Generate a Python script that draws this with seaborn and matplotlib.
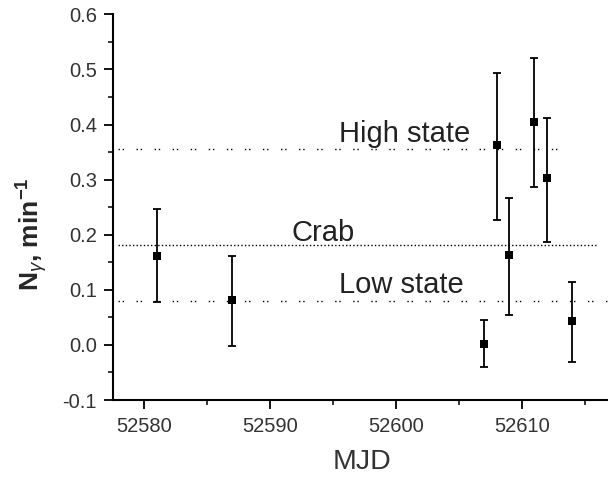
import matplotlib
matplotlib.use("Agg")
import matplotlib.pyplot as plt
import seaborn as sns
import numpy as np
import pandas as pd
from matplotlib.ticker import MultipleLocator

# ---- data ----
mjd = [52581, 52587, 52607, 52608, 52609, 52611, 52612, 52614]
rate = [0.162, 0.082, 0.002, 0.362, 0.163, 0.404, 0.302, 0.043]
err_up = [0.085, 0.079, 0.043, 0.132, 0.103, 0.116, 0.109, 0.072]
err_down = [0.084, 0.084, 0.043, 0.135, 0.109, 0.118, 0.115, 0.074]

level_names = ["High state", "Crab", "Low state"]
level_values = [0.356, 0.182, 0.080]
level_x_start = [52577.9, 52577.9, 52577.9]
level_x_end = [52612.8, 52615.9, 52621.0]
label_x = [52595.5, 52591.7, 52595.5]
label_y = [0.368, 0.188, 0.094]

x_ticks = [52580, 52590, 52600, 52610]
y_ticks = [-0.1, 0.0, 0.1, 0.2, 0.3, 0.4, 0.5, 0.6]

df = pd.DataFrame({"MJD": mjd, "rate": rate})

sns.set_style("ticks")
plt.rcParams["font.family"] = ["Liberation Sans", "DejaVu Sans"]
plt.rcParams["mathtext.fontset"] = "custom"
plt.rcParams["mathtext.rm"] = "Liberation Sans"
plt.rcParams["mathtext.bf"] = "Liberation Sans:bold"
plt.rcParams["mathtext.it"] = "Liberation Sans:italic"

fig = plt.figure(figsize=(6.08, 4.8), dpi=100)
xmin, xmax = 52577.5, 52620.0
left_px = 112.85
px_per_unit = 12.58
right_px = left_px + (xmax - xmin) * px_per_unit
ax = fig.add_axes([left_px / 608, 80 / 480, (right_px - left_px) / 608, (400 - 14.3) / 480])

# reference levels
styles = [(0, (1, 2, 1, 9)), (0, (1, 1.6)), (0, (1, 2, 1, 9))]
for v, xs, xe, ls in zip(level_values, level_x_start, level_x_end, styles):
    ax.plot([xs, xe], [v, v], color="black", lw=1.0, linestyle=ls, zorder=1)
for name, lx, ly in zip(level_names, label_x, label_y):
    ax.text(lx, ly, name, fontsize=21, ha="left", va="baseline", color="#222222")

ax.errorbar(mjd, rate, yerr=[err_down, err_up], fmt="none", ecolor="black",
            elinewidth=1.3, capsize=3.2, capthick=1.3, zorder=2)
sns.scatterplot(data=df, x="MJD", y="rate", marker="s", color="black", s=36,
                edgecolor="black", linewidth=0, ax=ax, zorder=3)

ax.set_xlim(xmin, xmax)
ax.set_ylim(-0.1, 0.6)
ax.set_xticks(x_ticks)
ax.set_yticks(y_ticks)
ax.set_yticklabels([f"{t:.1f}" for t in y_ticks])
ax.xaxis.set_minor_locator(MultipleLocator(5))
ax.yaxis.set_minor_locator(MultipleLocator(0.05))
ax.tick_params(axis="both", which="major", direction="out", length=6.5, width=1.3,
               labelsize=14.5, colors="black", labelcolor="#333333")
ax.tick_params(axis="both", which="minor", direction="out", length=3.5, width=1.3)
ax.tick_params(axis="x", pad=6)
ax.tick_params(axis="y", pad=5)
ax.set_xlabel("")
ax.set_ylabel("")
for s in ["top", "right"]:
    ax.spines[s].set_visible(False)
for s in ["left", "bottom"]:
    ax.spines[s].set_linewidth(1.5)
    ax.spines[s].set_color("black")

fig.text(361.7 / 608, 1 - 462 / 480, "MJD", fontsize=20.5, ha="center", va="center", color="#333333")
fig.text(32 / 608, 1 - 234 / 480, r"$\mathbf{N}_{\gamma}$, min$^{\mathbf{-1}}$", fontsize=19,
         fontweight="bold", rotation=90, ha="center", va="center")

fig.savefig("out.png", dpi=100)
